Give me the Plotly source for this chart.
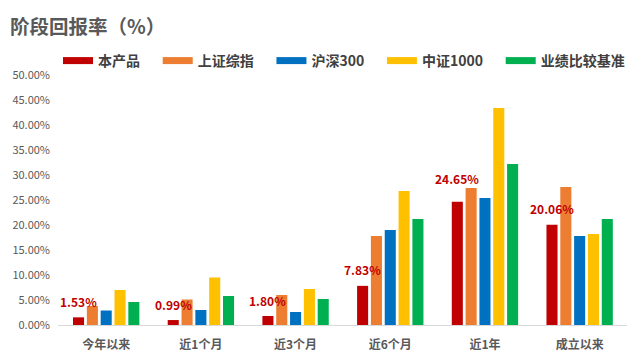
import plotly.graph_objects as go

categories = ["今年以来", "近1个月", "近3个月", "近6个月", "近1年", "成立以来"]
series_names = ["本产品", "上证综指", "沪深300", "中证1000", "业绩比较基准"]
product = [1.53, 0.99, 1.80, 7.83, 24.65, 20.06]
sse = [3.8, 5.1, 6.0, 17.8, 27.4, 27.6]
hs300 = [2.9, 3.0, 2.6, 19.0, 25.4, 17.8]
csi1000 = [7.0, 9.5, 7.2, 26.8, 43.4, 18.2]
benchmark = [4.6, 5.8, 5.2, 21.2, 32.2, 21.2]
colors = ["#C00000", "#ED7D31", "#0070C0", "#FFC000", "#00B050"]
y_ticks = [0, 5, 10, 15, 20, 25, 30, 35, 40, 45, 50]
label_lift = [16, 16, 16, 16, 23, 16]  # px gap of each data label above its bar

FONT = "Noto Sans CJK SC"
PAGE_OFF = 8  # default body margin of the html page
W, H = 640 - PAGE_OFF, 361 - PAGE_OFF
ML, MR, MT, MB = 50, 13, 67, 36
BARGAP = 0.27
all_series = [product, sse, hs300, csi1000, benchmark]

fig = go.Figure()
for i, (name, vals) in enumerate(zip(series_names, all_series)):
    fig.add_trace(go.Bar(x=categories, y=vals, name=name, showlegend=False,
                         marker=dict(color=colors[i], line=dict(width=0))))
# legend entries (thick line swatches like the original)
for i, name in enumerate(series_names):
    pad = "\u00a0" * 4 if i < len(series_names) - 1 else ""
    fig.add_trace(go.Scatter(x=[None], y=[None], mode="lines", name=name + pad,
                             line=dict(color=colors[i], width=7), showlegend=True,
                             hoverinfo="skip"))

# data labels for 本产品, placed over its bar in each group
plot_w = W - ML - MR
cat_w = plot_w / len(categories)
slot = (1 - BARGAP) * cat_w / len(series_names)
first_offset = -2 * slot
for c, v, lift in zip(categories, product, label_lift):
    fig.add_annotation(x=c, y=v, xref="x", yref="y", text=f"<b>{v:.2f}%</b>",
                       showarrow=False, xshift=first_offset, yshift=lift, yanchor="middle",
                       font=dict(color="#C00000", size=12, family=FONT))

fig.update_layout(
    width=W, height=H,
    barmode="group", bargap=BARGAP, bargroupgap=0.2,
    plot_bgcolor="white", paper_bgcolor="white",
    margin=dict(l=ML, r=MR, t=MT, b=MB, autoexpand=False),
    font=dict(family=FONT, color="#595959"),
    title=dict(text="<b>阶段回报率（%）</b>", x=2/W, xanchor="left",
               y=1 - 19/H, yanchor="middle", xref="container", yref="container",
               font=dict(size=19.5, color="#595959", family=FONT)),
    legend=dict(orientation="h", x=50/W, xanchor="left", y=1 - 53/H, yanchor="middle",
                xref="container", yref="container",
                font=dict(size=14, color="#404040", family=FONT, weight="bold"),
                itemwidth=30, tracegroupgap=0),
    showlegend=True,
)
fig.update_xaxes(showline=True, linecolor="#D9D9D9", linewidth=1, showgrid=False,
                 ticks="", ticklabelstandoff=9,
                 tickfont=dict(size=12, color="#595959", family=FONT, weight="bold"))
fig.update_yaxes(range=[0, 50], tickvals=y_ticks, ticktext=[f"{t:.2f}%" for t in y_ticks],
                 showgrid=False, zeroline=False, showline=False, ticks="", ticklabelstandoff=7,
                 tickfont=dict(size=11, color="#595959", family=FONT))

fig.write_html("out.html")
